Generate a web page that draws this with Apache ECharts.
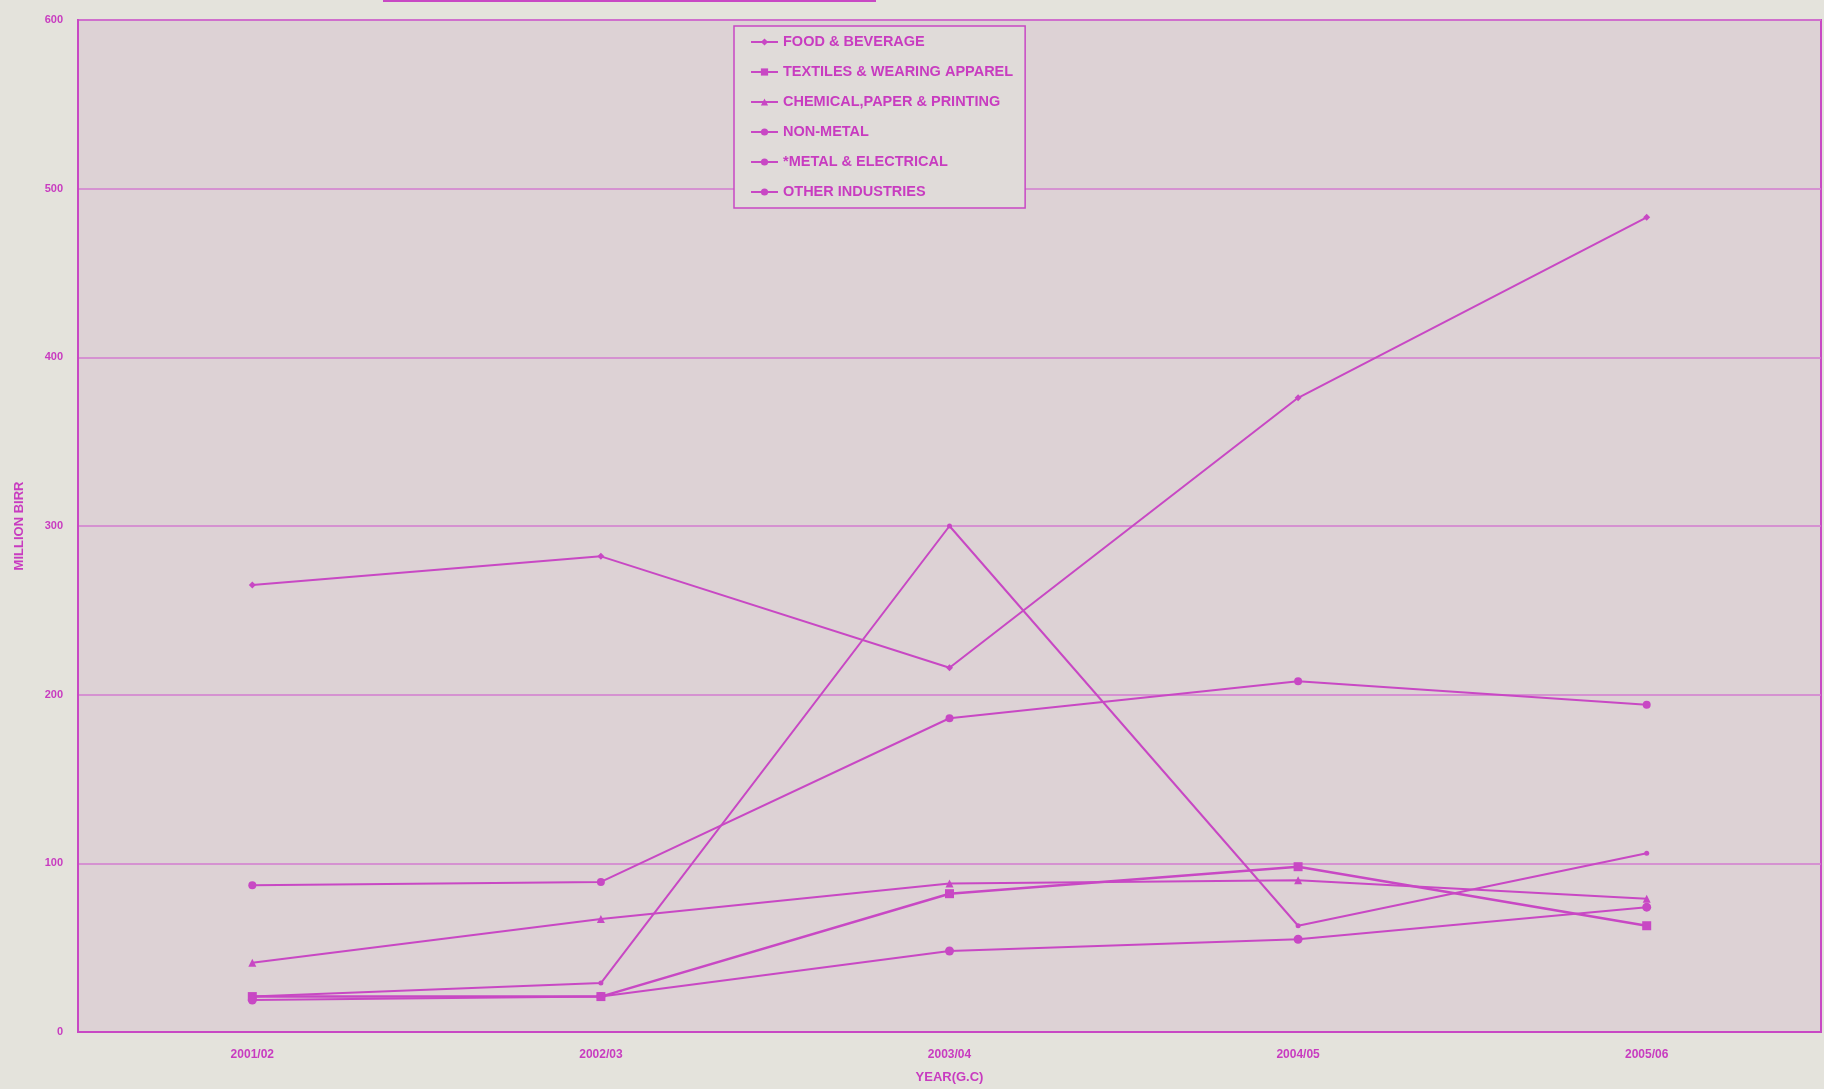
<!DOCTYPE html>
<html>
<head>
<meta charset="utf-8">
<script src="https://cdn.jsdelivr.net/npm/echarts@6/dist/echarts.min.js"></script>
<style>
html,body{margin:0;padding:0;background:#e4e3dc;}
#chart{width:1824px;height:1089px;}
</style>
</head>
<body>
<div id="chart"></div>
<script>
var categories = ['2001/02', '2002/03', '2003/04', '2004/05', '2005/06'];
var yTicks = [0, 100, 200, 300, 400, 500, 600];
var foodBeverage = [265, 282, 216, 376, 483];
var textilesApparel = [21, 21, 82, 98, 63];
var chemicalPaper = [41, 67, 88, 90, 79];
var nonMetal = [87, 89, 186, 208, 194];
var metalElectrical = [21, 29, 300, 63, 106];
var otherIndustries = [19, 21, 48, 55, 74];

var MAG = '#c848c4';
var GRID = '#d27ccf';
var TXT = '#c83cc0';
var FONT = '"Liberation Sans", Arial, sans-serif';

function mk(name, data, symbol, size, width) {
  return {
    name: name, type: 'line', data: data, symbol: symbol, symbolSize: size,
    showSymbol: true,
    lineStyle: { color: MAG, width: width },
    itemStyle: { color: MAG },
    z: 3
  };
}

var chart = echarts.init(document.getElementById('chart'), null, { renderer: 'canvas' });
chart.setOption({
  animation: false,
  backgroundColor: '#e4e3dc',
  textStyle: { fontFamily: FONT },
  grid: {
    left: 78, right: 3, top: 20, bottom: 57,
    show: true, backgroundColor: '#ddd2d5', borderColor: MAG, borderWidth: 2
  },
  legend: {
    orient: 'vertical', left: 734, top: 26,
    padding: [8, 12, 8, 16], itemGap: 14, itemWidth: 27, itemHeight: 9,
    backgroundColor: '#e0dbd9', borderColor: MAG, borderWidth: 1.5,
    textStyle: { color: TXT, fontSize: 14.5, fontWeight: 'bold', fontFamily: FONT, lineHeight: 16 },
    data: ['FOOD & BEVERAGE', 'TEXTILES & WEARING APPAREL', 'CHEMICAL,PAPER & PRINTING', 'NON-METAL', '*METAL & ELECTRICAL', 'OTHER INDUSTRIES']
  },
  xAxis: {
    type: 'category', data: categories, boundaryGap: true,
    name: 'YEAR(G.C)', nameLocation: 'middle', nameGap: 39,
    nameTextStyle: { color: TXT, fontSize: 13, fontWeight: 'bold', fontFamily: FONT },
    axisLine: { lineStyle: { color: MAG, width: 2 } },
    axisTick: { show: false },
    axisLabel: { color: TXT, fontSize: 12, fontWeight: 'bold', margin: 17, fontFamily: FONT },
    splitLine: { show: false }
  },
  yAxis: {
    type: 'value', min: yTicks[0], max: yTicks[yTicks.length - 1], interval: 100,
    name: 'MILLION BIRR', nameLocation: 'middle', nameRotate: 90, nameGap: 52,
    nameTextStyle: { color: TXT, fontSize: 13, fontWeight: 'bold', fontFamily: FONT },
    axisLine: { show: true, lineStyle: { color: MAG, width: 2 } },
    axisTick: { show: false },
    axisLabel: { color: TXT, fontSize: 11, fontWeight: 'bold', margin: 15, fontFamily: FONT },
    splitLine: { show: true, lineStyle: { color: GRID, width: 1.5 } }
  },
  graphic: [{
    type: 'rect', shape: { x: 384, y: -20, width: 491, height: 21 },
    style: { fill: 'none', stroke: MAG, lineWidth: 2 }
  }],
  series: [
    mk('FOOD & BEVERAGE', foodBeverage, 'diamond', 7, 2),
    mk('TEXTILES & WEARING APPAREL', textilesApparel, 'rect', 9, 2.5),
    mk('CHEMICAL,PAPER & PRINTING', chemicalPaper, 'triangle', 8, 2),
    mk('NON-METAL', nonMetal, 'circle', 8, 2),
    mk('*METAL & ELECTRICAL', metalElectrical, 'circle', 5, 2),
    mk('OTHER INDUSTRIES', otherIndustries, 'circle', 9, 2)
  ]
});
</script>
</body>
</html>
